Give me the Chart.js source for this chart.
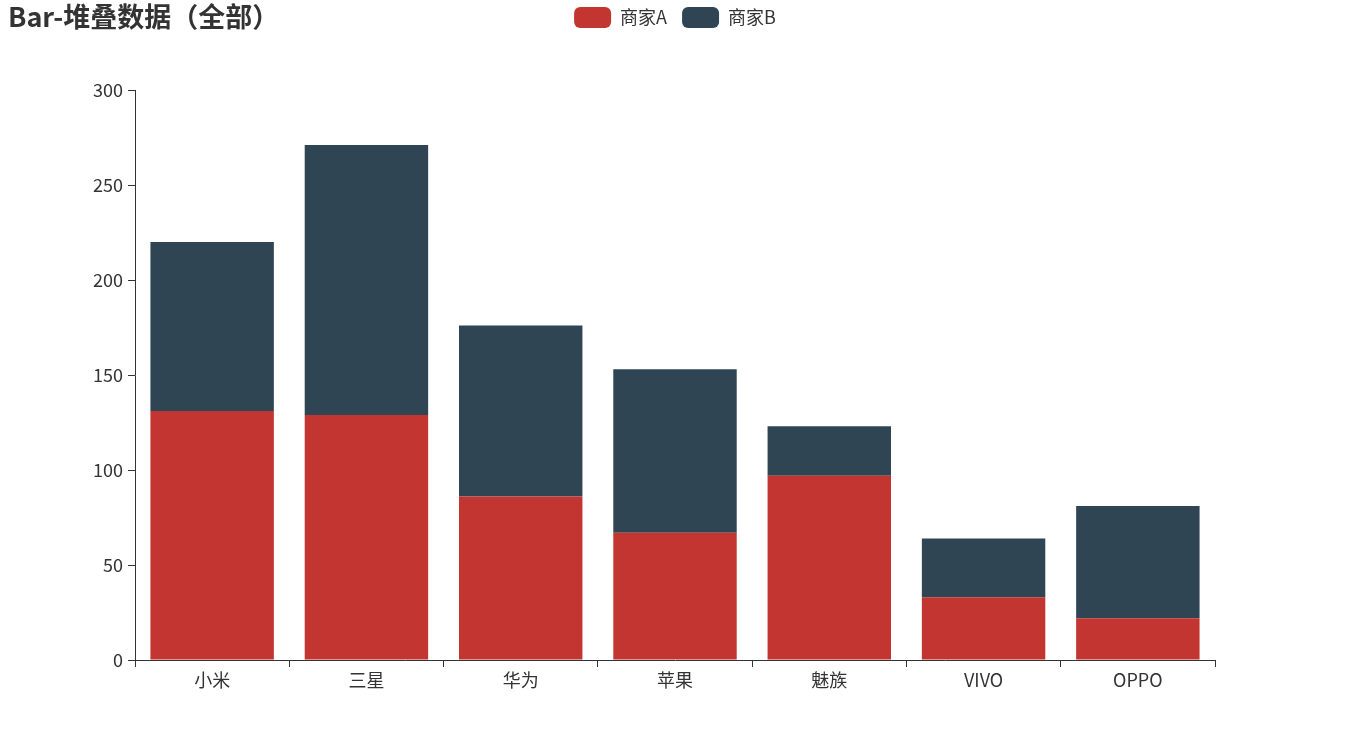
<!DOCTYPE html>
<html>
<head>
<meta charset="utf-8">
<script src="https://cdn.jsdelivr.net/npm/chart.js@4/dist/chart.umd.min.js"></script>
<style>
html,body{margin:0;padding:0;background:#fff;}
#wrap{position:relative;width:1350px;height:750px;}
#title{position:absolute;left:8px;top:-2px;font-family:"Noto Sans CJK SC","Noto Sans",sans-serif;font-weight:bold;font-size:27px;color:#333;line-height:36px;white-space:nowrap;}
</style>
</head>
<body>
<div id="wrap">
<canvas id="c" width="1350" height="750"></canvas>
<div id="title">Bar-堆叠数据（全部）</div>
</div>
<script>
const categories = ["小米", "三星", "华为", "苹果", "魅族", "VIVO", "OPPO"];
const seriesA = [131, 129, 86, 67, 97, 33, 22];
const seriesB = [89, 142, 90, 86, 26, 31, 59];
const yTicks = [0, 50, 100, 150, 200, 250, 300];

const FONT = '"Noto Sans CJK SC","Noto Sans",sans-serif';
const LEGEND_BOX_TOP = 7;

const legendShift = {
  id: 'legendShift',
  afterLayout(chart) {
    const l = chart.legend;
    if (!l) return;
    const pad = l.options.labels.padding;
    const d = (l.top + pad) - LEGEND_BOX_TOP;
    l.top -= d; l.bottom -= d;
  }
};

new Chart(document.getElementById('c'), {
  type: 'bar',
  data: {
    labels: categories,
    datasets: [
      {label: '商家A', data: seriesA, backgroundColor: '#c23531', borderWidth: 0, stack: 's', yAxisID: 'y'},
      {label: '商家B', data: seriesB, backgroundColor: '#2f4554', borderWidth: 0, stack: 's', yAxisID: 'y'}
    ]
  },
  plugins: [legendShift],
  options: {
    responsive: false,
    animation: false,
    datasets: {bar: {barPercentage: 0.8, categoryPercentage: 1.0}},
    layout: {padding: {left: 0, right: 0, top: 44, bottom: 0}},
    plugins: {
      legend: {
        position: 'top',
        align: 'center',
        labels: {
          boxWidth: 37, boxHeight: 21, useBorderRadius: true, borderRadius: 6,
          color: '#333', font: {family: FONT, size: 18}, padding: 15
        }
      },
      title: {display: false},
      tooltip: {enabled: false}
    },
    scales: {
      x: {
        stacked: true,
        offset: true,
        grid: {display: true, drawOnChartArea: false, drawTicks: true, tickLength: 7, offset: true, color: '#333'},
        border: {display: true, color: '#333', width: 1},
        ticks: {color: '#333', font: {family: FONT, size: 18}, padding: 2},
        afterFit: s => { s.height = 90; }
      },
      y: {
        stacked: true,
        position: 'left',
        min: 0, max: 300,
        afterBuildTicks: s => { s.ticks = yTicks.map(v => ({value: v})); },
        grid: {display: true, drawOnChartArea: false, drawTicks: true, tickLength: 7, color: '#333'},
        border: {display: true, color: '#333', width: 1},
        ticks: {color: '#333', font: {family: FONT, size: 18}, padding: 5},
        afterFit: s => { s.width = 135; }
      },
      y2: {
        position: 'right',
        display: true,
        min: 0, max: 1,
        grid: {display: false},
        border: {display: false},
        ticks: {display: false},
        afterFit: s => { s.width = 135; }
      }
    }
  }
});
</script>
</body>
</html>
